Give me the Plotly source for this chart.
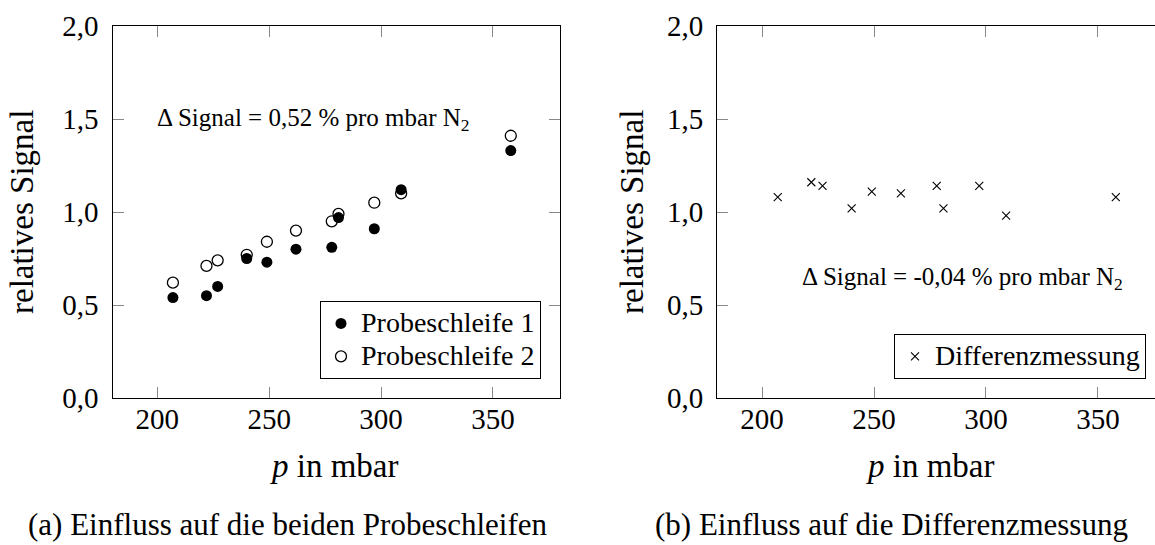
import plotly.graph_objects as go

# ---- data ----
pressure = [207, 222, 227, 240, 249, 262, 278, 281, 297, 309, 358]
signal_ps1 = [0.54, 0.55, 0.60, 0.75, 0.73, 0.80, 0.81, 0.97, 0.91, 1.12, 1.33]
signal_ps2 = [0.62, 0.71, 0.74, 0.77, 0.84, 0.90, 0.95, 0.99, 1.05, 1.10, 1.41]
signal_diff = [1.08, 1.16, 1.14, 1.02, 1.11, 1.10, 1.14, 1.02, 1.14, 0.98, 1.08]
x_ticks = [200, 250, 300, 350]
y_ticks = [0.0, 0.5, 1.0, 1.5, 2.0]

FONT = "Liberation Serif, DejaVu Serif, serif"
W, H = 1155, 545

def legend_label(s):
    return '<span style="font-size:28px">' + s + '</span>'

fig = go.Figure()
fig.add_trace(go.Scatter(
    x=pressure, y=signal_ps1, mode="markers", name=legend_label("Probeschleife 1"),
    marker=dict(symbol="circle", size=11, color="black"),
    xaxis="x", yaxis="y", legend="legend"))
fig.add_trace(go.Scatter(
    x=pressure, y=signal_ps2, mode="markers", name=legend_label("Probeschleife 2"),
    marker=dict(symbol="circle-open", size=11, color="black", line=dict(width=1.3, color="black")),
    xaxis="x", yaxis="y", legend="legend"))
fig.add_trace(go.Scatter(
    x=pressure, y=signal_diff, mode="markers", name=legend_label("Differenzmessung"),
    marker=dict(symbol="x-thin-open", size=8, color="black", line=dict(width=1.1, color="black")),
    xaxis="x2", yaxis="y2", legend="legend2"))

def px_x(p):
    return p / W

def px_y(p):
    return 1 - p / H

axis_common = dict(
    showgrid=False, zeroline=False, showline=True, linecolor="black", linewidth=1.3,
    ticks="inside", ticklen=11, tickwidth=1, tickcolor="#888888", automargin=False,
    tickfont=dict(family=FONT, size=29, color="black"),
)

fig.update_layout(
    width=W, height=H, margin=dict(l=0, r=0, t=0, b=0, autoexpand=False),
    paper_bgcolor="white", plot_bgcolor="white",
    separators=",.",
    font=dict(family=FONT, color="black"),
    xaxis=dict(domain=[px_x(112.5), px_x(560)], range=[180, 380], tickvals=x_ticks,
               anchor="y", mirror="allticks", ticklabelstandoff=-5, **axis_common),
    yaxis=dict(domain=[px_y(398), px_y(26)], range=[0, 2], tickvals=y_ticks, tickformat=".1f",
               anchor="x", mirror="allticks", ticklabelstandoff=7, **axis_common),
    xaxis2=dict(domain=[px_x(717.3), 1.0], range=[180, 375.5], tickvals=x_ticks,
                anchor="y2", mirror="allticks", ticklabelstandoff=-5, **axis_common),
    yaxis2=dict(domain=[px_y(398), px_y(26)], range=[0, 2], tickvals=y_ticks, tickformat=".1f",
                anchor="x2", mirror=False, ticklabelstandoff=7, **axis_common),
    legend=dict(x=px_x(541), y=px_y(379), xanchor="right", yanchor="bottom",
                bgcolor="white", bordercolor="black", borderwidth=1,
                font=dict(family=FONT, size=23, color="black"), tracegroupgap=0),
    legend2=dict(x=px_x(1146), y=px_y(379), xanchor="right", yanchor="bottom",
                 bgcolor="white", bordercolor="black", borderwidth=1,
                 font=dict(family=FONT, size=23, color="black")),
    showlegend=True,
)

def ann(text, x, y, size, xref="paper", yref="paper", angle=0):
    return dict(text=text, x=x, y=y, xref=xref, yref=yref, textangle=angle,
                xanchor="center", yanchor="middle", showarrow=False,
                font=dict(family=FONT, size=size, color="black"))

annotations = [
    # axis titles
    ann("relatives Signal", px_x(22), px_y(212), 33, angle=-90),
    ann("relatives Signal", px_x(632), px_y(212), 33, angle=-90),
    ann("<i>p</i> in mbar", px_x(334), px_y(466), 33),
    ann("<i>p</i> in mbar", px_x(930), px_y(466), 33),
    # slopes
    ann("Δ Signal = 0,52 % pro mbar N<sub>2</sub>", 270, 1.5, 25, xref="x", yref="y"),
    ann("Δ Signal = -0,04 % pro mbar N<sub>2</sub>", 289.6, 0.645, 25, xref="x2", yref="y2"),
    # captions
    ann("(a) Einfluss auf die beiden Probeschleifen", px_x(287.5), px_y(524), 31),
    ann("(b) Einfluss auf die Differenzmessung", px_x(891), px_y(524), 31),
]
fig.update_layout(annotations=annotations)

fig.write_html("out.html")
